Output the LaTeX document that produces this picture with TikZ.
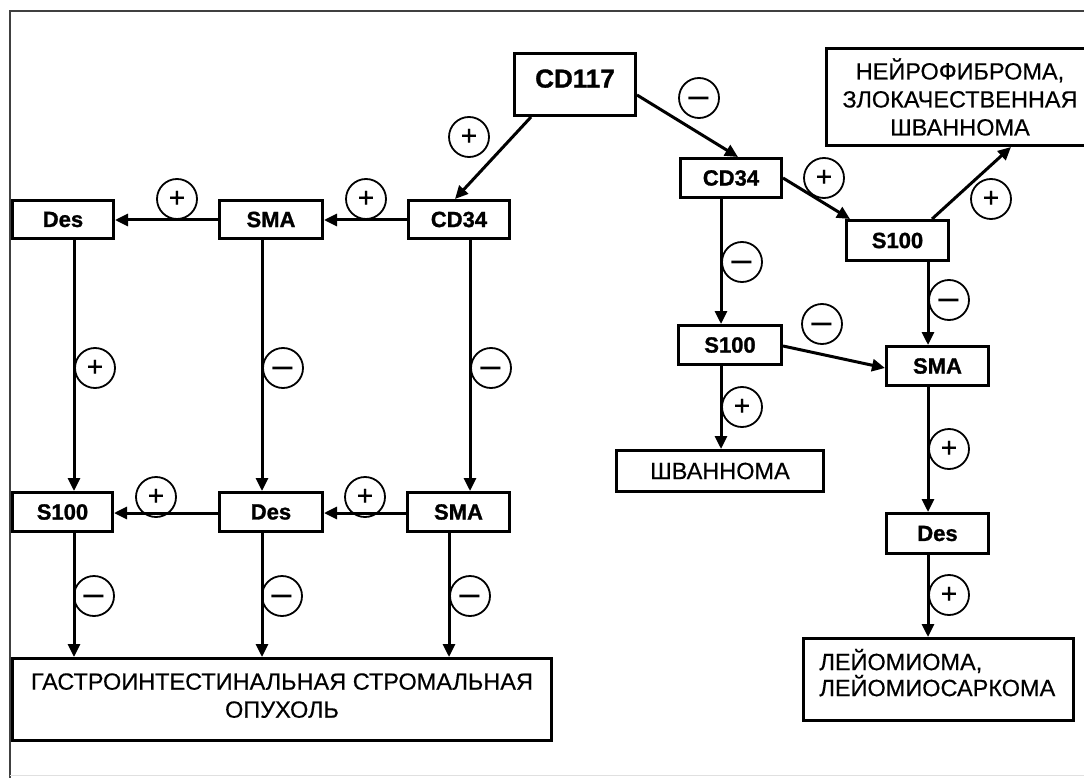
\documentclass[tikz,border=0pt]{standalone}
\usepackage{fontspec}
\setmainfont{Liberation Sans}[FakeBold=0.4]
\newfontfamily\heavy{Liberation Sans Bold}[FakeBold=1.2]
\newfontfamily\djv{DejaVu Sans}
\usetikzlibrary{arrows.meta,calc}
\tikzset{
  box/.style={draw, line width=3pt, inner sep=0pt, font=\fontsize{22}{26}\selectfont\heavy},
  bigbox/.style={draw, line width=3pt, inner sep=0pt, align=center, font=\fontsize{23.5}{28}\selectfont},
  sign/.style={circle, draw, line width=1.8pt, minimum size=40pt, inner sep=0pt, font=\fontsize{28}{28}\selectfont},
  arr/.style={line width=3pt, -{Triangle[length=13pt,width=12pt]}},
}
\newcommand{\mns}{{\djv\fontsize{32}{32}\selectfont\vphantom{+}−}}
\newcommand{\pls}{+}
\begin{document}
\begin{tikzpicture}[x=1pt,y=-1pt]
\clip (0,0) rectangle (1084,778);
\fill[white] (0,0) rectangle (1084,778);
% frame
\draw[black!75, line width=2pt] (10,790) -- (10,11) -- (1100,11);
\draw[black!12, line width=1pt] (10,775) -- (1100,775);

% column coordinates
\coordinate (cA) at (74,0);
\coordinate (cB) at (262,0);
\coordinate (cC) at (470,0);
\coordinate (cD) at (449,0);
\coordinate (cR) at (721,0);
\coordinate (cS) at (928,0);
\coordinate (rT) at (0,220);
\coordinate (rB) at (0,513);

% nodes
\node[box, minimum width=121pt, minimum height=62pt, font=\fontsize{26}{30}\selectfont\heavy] (cd117) at (575,84.5) {\raisebox{12pt}{CD117}};
\node[box, minimum width=101pt, minimum height=38pt] (cd34L) at (459,219.5) {CD34};
\node[box, minimum width=103pt, minimum height=38pt] (smaT) at (271,219.5) {SMA};
\node[box, minimum width=101pt, minimum height=38pt] (desT) at (63,219.5) {Des};
\node[box, minimum width=100pt, minimum height=39pt] (s100B) at (62.5,512) {S100};
\node[box, minimum width=103pt, minimum height=39pt] (desB) at (271,512) {Des};
\node[box, minimum width=102pt, minimum height=39pt] (smaB) at (458.5,512) {SMA};
\node[bigbox, minimum width=539pt, minimum height=82pt] (gist) at (282,699.5) {\raisebox{8pt}{ГАСТРОИНТЕСТИНАЛЬНАЯ СТРОМАЛЬНАЯ}\\\raisebox{8pt}{ОПУХОЛЬ}};
\node[box, minimum width=101pt, minimum height=39pt] (cd34R) at (731,178) {CD34};
\node[box, minimum width=102pt, minimum height=40pt] (s100R1) at (897.5,240.5) {S100};
\node[bigbox, minimum width=267pt, minimum height=97pt] (neuro) at (960,97) {НЕЙРОФИБРОМА,\\ЗЛОКАЧЕСТВЕННАЯ\\ШВАННОМА};
\node[box, minimum width=103pt, minimum height=39pt] (s100R2) at (730,345) {S100};
\node[box, minimum width=102pt, minimum height=39pt] (smaR) at (937.5,366) {SMA};
\node[bigbox, minimum width=207pt, minimum height=41pt] (shwann) at (720,471) {ШВАННОМА};
\node[box, minimum width=102pt, minimum height=40pt] (desR) at (937.5,533.5) {Des};
\node[bigbox, minimum width=270pt, minimum height=82pt, align=left, text width=238pt, font=\fontsize{23.5}{26}\selectfont] (leio) at (938.5,679.5) {ЛЕЙОМИОМА,\\ЛЕЙОМИОСАРКОМА\\[-12pt]\mbox{}};

% connectors - left
\draw[arr] ($(cd117.south)+(-44,0)$) -- ($(cd34L.north)+(-4,0)$);
\draw[arr] (cd34L.west |- rT) -- (smaT.east |- rT);
\draw[arr] (smaT.west |- rT) -- (desT.east |- rT);
\draw[arr] (desT.south -| cA) -- (s100B.north -| cA);
\draw[arr] (smaT.south -| cB) -- (desB.north -| cB);
\draw[arr] (cd34L.south -| cC) -- (smaB.north -| cC);
\draw[arr] (smaB.west |- rB) -- (desB.east |- rB);
\draw[arr] (desB.west |- rB) -- (s100B.east |- rB);
\draw[arr] (s100B.south -| cA) -- (gist.north -| cA);
\draw[arr] (desB.south -| cB) -- (gist.north -| cB);
\draw[arr] (smaB.south -| cD) -- (gist.north -| cD);

% connectors - right
\draw[arr] ($(cd117.east)+(0,10.5)$) -- ($(cd34R.north)+(7,0)$);
\draw[arr] (cd34R.east) -- ($(s100R1.north west)+(5,0)$);
\draw[arr] ($(s100R1.north)+(34.5,0)$) -- ($(neuro.south west)+(186,0)$);
\draw[arr] (cd34R.south -| cR) -- (s100R2.north -| cR);
\draw[arr] (s100R2.south -| cR) -- (shwann.north -| cR);
\draw[arr] ($(s100R2.east)+(0,1)$) -- ($(smaR.west)+(0,2)$);
\draw[arr] (s100R1.south -| cS) -- (smaR.north -| cS);
\draw[arr] (smaR.south -| cS) -- (desR.north -| cS);
\draw[arr] (desR.south -| cS) -- (leio.north -| cS);

% signs
\node[sign] (g1) at (699,98) {\mns};
\node[sign] (g2) at (469,137) {\pls};
\node[sign] (g3) at (177,199) {\pls};
\node[sign] (g4) at (366,199) {\pls};
\node[sign] (g5) at (95,368) {\pls};
\node[sign] (g6) at (283,368) {\mns};
\node[sign] (g7) at (491,368) {\mns};
\node[sign] (g8) at (156,497) {\pls};
\node[sign] (g9) at (365,497) {\pls};
\node[sign] (g10) at (94,596) {\mns};
\node[sign] (g11) at (282,596) {\mns};
\node[sign] (g12) at (470,596) {\mns};
\node[sign] (g13) at (824,178) {\pls};
\node[sign] (g14) at (991,199) {\pls};
\node[sign] (g15) at (742,262) {\mns};
\node[sign] (g16) at (822,324) {\mns};
\node[sign] (g17) at (949,300) {\mns};
\node[sign] (g18) at (742,407) {\pls};
\node[sign] (g19) at (949,449) {\pls};
\node[sign] (g20) at (949,595) {\pls};
\end{tikzpicture}
\end{document}
